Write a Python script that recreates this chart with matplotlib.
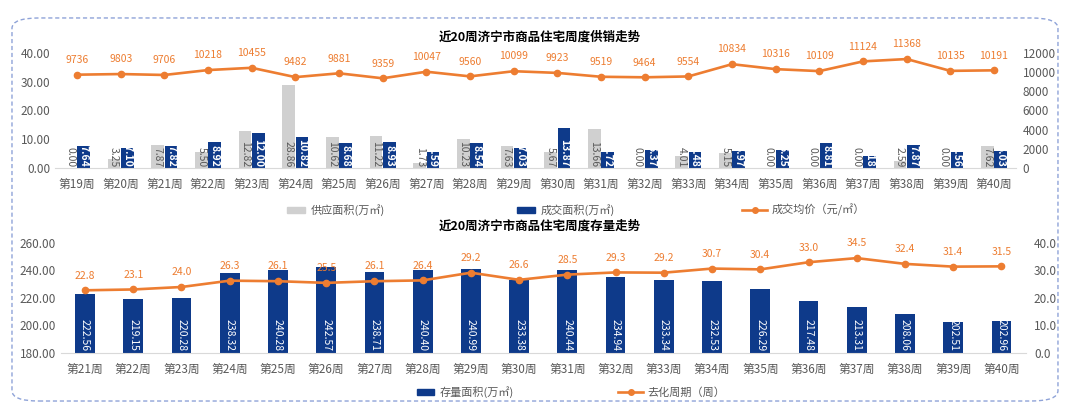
import matplotlib
matplotlib.use("Agg")
import matplotlib.pyplot as plt
from matplotlib.patches import FancyBboxPatch, Patch
from matplotlib.lines import Line2D
import numpy as np

plt.rcParams['font.family'] = ['Noto Sans CJK SC', 'DejaVu Sans']

# 供销数据（第19-40周）
weeks_top = [f"第{i}周" for i in range(19, 41)]
supply = [0.00, 3.25, 7.87, 5.50, 12.82, 28.86, 10.62, 11.22, 1.73, 10.23, 7.63,
          5.67, 13.66, 0.00, 4.01, 5.15, 0.00, 0.00, 0.00, 2.59, 0.00, 7.62]
deal = [7.64, 7.10, 7.82, 8.92, 12.00, 10.82, 8.68, 8.93, 5.59, 8.54, 7.03,
        13.87, 5.72, 6.37, 5.48, 5.97, 6.25, 8.81, 4.18, 7.87, 5.56, 6.03]
price = [9736, 9803, 9706, 10218, 10455, 9482, 9881, 9359, 10047, 9560, 10099,
         9923, 9519, 9464, 9554, 10834, 10316, 10109, 11124, 11368, 10135, 10191]

# 存量数据（第21-40周）
weeks_bot = [f"第{i}周" for i in range(21, 41)]
stock = [222.56, 219.15, 220.28, 238.32, 240.28, 242.57, 238.71, 240.40, 240.99, 233.38,
         240.44, 234.94, 233.34, 232.53, 226.29, 217.48, 213.31, 208.06, 202.51, 202.96]
cycle = [22.8, 23.1, 24.0, 26.3, 26.1, 25.5, 26.1, 26.4, 29.2, 26.6,
         28.5, 29.3, 29.2, 30.7, 30.4, 33.0, 34.5, 32.4, 31.4, 31.5]

NAVY = '#0E3A8A'
GRAY = '#D0D0D0'
ORANGE = '#ED7D31'
TXT = '#595959'

fig = plt.figure(figsize=(10.8, 4.15), dpi=100)

# 外框（虚线圆角）
fig.patches.append(FancyBboxPatch((0.0111, 0.0337), 0.9685, 0.923,
                                  boxstyle="round,pad=0,rounding_size=0.025",
                                  transform=fig.transFigure, fill=False, ec='#8FA3D8',
                                  lw=1.0, ls=(0, (3, 2))))


def style_axes(ax):
    for s in ['top', 'right', 'left']:
        ax.spines[s].set_visible(False)
    ax.spines['bottom'].set_color('#D9D9D9')
    ax.tick_params(axis='both', length=0, colors=TXT, labelsize=8.5)
    ax.tick_params(axis='x', pad=7)


# ---------- 上图：供销 ----------
ax1 = fig.add_axes([0.0511, 0.5952, 0.8895, 0.2771])
x = np.arange(len(weeks_top))
w = 0.29
ax1.bar(x - w / 2 - 0.01, supply, w, color=GRAY)
ax1.bar(x + w / 2 + 0.01, deal, w, color=NAVY)
ax1.set_ylim(0, 40)
ax1.set_xlim(-0.5, len(x) - 0.5)
ax1.set_yticks([0, 10, 20, 30, 40])
ax1.set_yticklabels([f"{v:.2f}" for v in [0, 10, 20, 30, 40]])
ax1.set_xticks(x)
ax1.set_xticklabels(weeks_top)
style_axes(ax1)
for i in range(len(x)):
    ax1.text(x[i] - w / 2 - 0.01, 0.3, f"{supply[i]:.2f}", rotation=-90, ha='center', va='bottom',
             fontsize=7.5, color=TXT)
    ax1.text(x[i] + w / 2 + 0.01, 0.3, f"{deal[i]:.2f}", rotation=-90, ha='center', va='bottom',
             fontsize=7.5, color='white', fontweight='bold')

ax1r = ax1.twinx()
ax1r.plot(x, price, color=ORANGE, lw=1.9, marker='o', ms=4.5)
ax1r.set_ylim(0, 12000)
ax1r.set_yticks(range(0, 12001, 2000))
for s in ax1r.spines.values():
    s.set_visible(False)
ax1r.tick_params(axis='y', length=0, colors=TXT, labelsize=8.5, pad=5)
for i in range(len(x)):
    ax1r.annotate(str(price[i]), (x[i], price[i]), xytext=(0, 7), textcoords='offset points',
                  ha='center', va='bottom', fontsize=7.5, color=ORANGE)

fig.text(0.5, 0.911, "近20周济宁市商品住宅周度供销走势", ha='center', va='center',
         fontsize=9, fontweight='bold', color='black')

fig.legend(handles=[Patch(color=GRAY)], labels=['供应面积(万㎡)'], loc='center',
           bbox_to_anchor=(0.311, 0.494), frameon=False, fontsize=8, labelcolor=TXT,
           handlelength=1.6, handleheight=0.5, handletextpad=0.5)
fig.legend(handles=[Patch(color=NAVY)], labels=['成交面积(万㎡)'], loc='center',
           bbox_to_anchor=(0.524, 0.494), frameon=False, fontsize=8, labelcolor=TXT,
           handlelength=1.6, handleheight=0.5, handletextpad=0.5)
fig.legend(handles=[Line2D([], [], color=ORANGE, lw=1.9, marker='o', ms=4)],
           labels=['成交均价（元/㎡）'], loc='center', bbox_to_anchor=(0.744, 0.494),
           frameon=False, fontsize=8, labelcolor=TXT, handlelength=2.2, handletextpad=0.4)

# ---------- 下图：存量 ----------
ax2 = fig.add_axes([0.0564, 0.1494, 0.8932, 0.2651])
x2 = np.arange(len(weeks_bot))
ax2.bar(x2, stock, 0.41, color=NAVY)
ax2.set_ylim(180, 260)
ax2.set_xlim(-0.5, len(x2) - 0.5)
ax2.set_yticks(range(180, 261, 20))
ax2.set_yticklabels([f"{v:.2f}" for v in range(180, 261, 20)])
ax2.set_xticks(x2)
ax2.set_xticklabels(weeks_bot)
style_axes(ax2)
for i in range(len(x2)):
    ax2.text(x2[i], 181.5, f"{stock[i]:.2f}", rotation=-90, ha='center', va='bottom',
             fontsize=7.5, color='white')

ax2r = ax2.twinx()
ax2r.plot(x2, cycle, color=ORANGE, lw=1.9, marker='o', ms=4.5)
ax2r.set_ylim(0, 40)
ax2r.set_yticks(range(0, 41, 10))
ax2r.set_yticklabels([f"{v:.1f}" for v in range(0, 41, 10)])
for s in ax2r.spines.values():
    s.set_visible(False)
ax2r.tick_params(axis='y', length=0, colors=TXT, labelsize=8.5, pad=6)
for i in range(len(x2)):
    ax2r.annotate(f"{cycle[i]:.1f}", (x2[i], cycle[i]), xytext=(0, 7), textcoords='offset points',
                  ha='center', va='bottom', fontsize=7.5, color=ORANGE)

fig.text(0.5, 0.455, "近20周济宁市商品住宅周度存量走势", ha='center', va='center',
         fontsize=9, fontweight='bold', color='black')

fig.legend(handles=[Patch(color=NAVY)], labels=['存量面积(万㎡)'], loc='center',
           bbox_to_anchor=(0.431, 0.055), frameon=False, fontsize=8, labelcolor=TXT,
           handlelength=1.6, handleheight=0.5, handletextpad=0.5)
fig.legend(handles=[Line2D([], [], color=ORANGE, lw=1.9, marker='o', ms=4)],
           labels=['去化周期（周）'], loc='center', bbox_to_anchor=(0.622, 0.055),
           frameon=False, fontsize=8, labelcolor=TXT, handlelength=2.2, handletextpad=0.4)

fig.savefig("out.png", dpi=100)
